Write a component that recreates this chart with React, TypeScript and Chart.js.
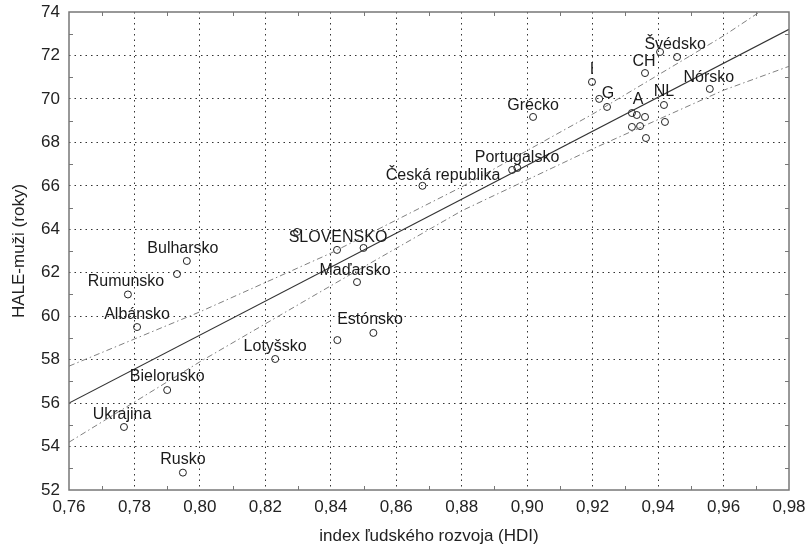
import React, { useEffect, useRef } from "react";
import { Chart, registerables } from "chart.js";

Chart.register(...registerables);

// Country points: HDI (x) and HALE for men (y)
const hdi = [0.7768, 0.79, 0.7948, 0.823, 0.7808, 0.778, 0.796, 0.793, 0.8297, 0.8419, 0.85, 0.848, 0.842, 0.853, 0.868, 0.8954, 0.897, 0.9018, 0.9198, 0.922, 0.9244, 0.936, 0.9406, 0.9458, 0.9558, 0.9418, 0.9421, 0.932, 0.9335, 0.936, 0.932, 0.9345, 0.9363];
const hale = [54.9, 56.6, 52.8, 58.03, 59.5, 61.0, 62.54, 61.94, 63.88, 63.05, 63.14, 61.57, 58.9, 59.23, 66.0, 66.73, 66.82, 69.17, 70.78, 70.0, 69.63, 71.19, 72.16, 71.93, 70.46, 69.72, 68.94, 69.35, 69.26, 69.17, 68.71, 68.75, 68.2];

// Text labels (anchor in data coordinates)
const labelTexts = ["Švédsko", "CH", "I", "G", "A", "NL", "Nórsko", "Grécko", "Portugalsko", "Česká republika", "SLOVENSKO", "Maďarsko", "Estónsko", "Lotyšsko", "Bulharsko", "Rumunsko", "Albánsko", "Bielorusko", "Ukrajina", "Rusko"];
const labelX = [0.9452, 0.9357, 0.9198, 0.9247, 0.9339, 0.9418, 0.9555, 0.9018, 0.8969, 0.8743, 0.8422, 0.8474, 0.852, 0.823, 0.7948, 0.7774, 0.7808, 0.79, 0.7762, 0.7948];
const labelY = [72.48, 71.7, 71.33, 70.23, 69.95, 70.32, 71.0, 69.67, 67.28, 66.45, 63.6, 62.08, 59.83, 58.58, 63.1, 61.57, 60.06, 57.2, 55.45, 53.38];

// Regression line and confidence band
const fitX = [0.76, 0.98];
const fitY = [56.0, 73.2];
const bandX = [0.76, 0.8, 0.84, 0.88, 0.92, 0.96, 0.98];
const upperY = [57.7, 60.2, 62.9, 65.95, 69.3, 72.9, 74.9];
const lowerY = [54.2, 57.9, 61.4, 64.85, 67.7, 70.4, 71.5];

// Axes
const xMin = 0.76, xMax = 0.98, xStep = 0.02;
const yMin = 52, yMax = 74, yStep = 2;
const xTitle = "index ľudského rozvoja (HDI)";
const yTitle = "HALE-muži (roky)";

const FONT = "'Liberation Sans', Arial, sans-serif";

export default function App() {
  const ref = useRef<HTMLCanvasElement | null>(null);

  useEffect(() => {
    document.body.style.margin = "0";
    const canvas = ref.current;
    if (!canvas) return;

    const extrasPlugin = {
      id: "extras",
      afterDatasetsDraw(chart: any) {
        const ctx = chart.ctx;
        const { left, right, top, bottom } = chart.chartArea;
        const xs = chart.scales.x;
        const ys = chart.scales.y;
        ctx.save();
        // minor ticks
        ctx.strokeStyle = "#777";
        ctx.lineWidth = 1;
        ctx.beginPath();
        for (let v = xMin + xStep / 2; v < xMax; v += xStep) {
          const px = Math.round(xs.getPixelForValue(v)) + 0.5;
          ctx.moveTo(px, bottom);
          ctx.lineTo(px, bottom - 4);
          ctx.moveTo(px, top);
          ctx.lineTo(px, top + 4);
        }
        for (let v = yMin + yStep / 2; v < yMax; v += yStep) {
          const py = Math.round(ys.getPixelForValue(v)) + 0.5;
          ctx.moveTo(left, py);
          ctx.lineTo(left + 4, py);
          ctx.moveTo(right, py);
          ctx.lineTo(right - 4, py);
        }
        ctx.stroke();
        // box
        ctx.strokeStyle = "#777";
        ctx.lineWidth = 1.5;
        ctx.strokeRect(left, top, right - left, bottom - top);
        // labels
        ctx.fillStyle = "#1a1a1a";
        ctx.font = `16px ${FONT}`;
        ctx.textAlign = "center";
        ctx.textBaseline = "middle";
        for (let i = 0; i < labelTexts.length; i++) {
          ctx.fillText(labelTexts[i], xs.getPixelForValue(labelX[i]), ys.getPixelForValue(labelY[i]));
        }
        ctx.restore();
      },
    };

    const points = hdi.map((x, i) => ({ x, y: hale[i] }));
    const fit = fitX.map((x, i) => ({ x, y: fitY[i] }));
    const upper = bandX.map((x, i) => ({ x, y: upperY[i] }));
    const lower = bandX.map((x, i) => ({ x, y: lowerY[i] }));

    const edgeColor = (c: any) => {
      const v = c.tick ? c.tick.value : 0;
      return c.scale.axis === "x"
        ? (Math.abs(v - xMin) < 1e-6 || Math.abs(v - xMax) < 1e-6 ? "rgba(0,0,0,0)" : "#333")
        : (Math.abs(v - yMin) < 1e-6 || Math.abs(v - yMax) < 1e-6 ? "rgba(0,0,0,0)" : "#333");
    };

    const chart = new Chart(canvas, {
      type: "scatter",
      data: {
        datasets: [
          {
            type: "line",
            data: upper,
            borderColor: "#808080",
            borderWidth: 1,
            borderDash: [6, 3, 1.5, 3],
            pointRadius: 0,
            fill: false,
          },
          {
            type: "line",
            data: lower,
            borderColor: "#808080",
            borderWidth: 1,
            borderDash: [6, 3, 1.5, 3],
            pointRadius: 0,
            fill: false,
          },
          {
            type: "line",
            data: fit,
            borderColor: "#333",
            borderWidth: 1.2,
            pointRadius: 0,
            fill: false,
          },
          {
            data: points,
            pointRadius: 3.5,
            pointBorderWidth: 1,
            pointBorderColor: "#222",
            pointBackgroundColor: "rgba(255,255,255,0)",
            showLine: false,
          },
        ],
      } as any,
      options: {
        responsive: false,
        animation: false,
        events: [],
        layout: { padding: { top: 12, right: 16, left: 0, bottom: 0 } },
        plugins: { legend: { display: false }, tooltip: { enabled: false } },
        scales: {
          x: {
            type: "linear",
            min: xMin,
            max: xMax,
            afterFit: (s: any) => {
              s.height = 60;
              s.paddingLeft = 0;
              s.paddingRight = 0;
            },
            ticks: {
              stepSize: xStep,
              padding: 7,
              color: "#222",
              font: { family: FONT, size: 17 },
              maxRotation: 0,
              callback: (v: any) => Number(v).toFixed(2).replace(".", ","),
            },
            grid: { color: edgeColor, drawTicks: false, lineWidth: 1 },
            border: { display: false, dash: [1.5, 4] },
            title: {
              display: true,
              text: xTitle,
              color: "#222",
              font: { family: FONT, size: 17 },
              padding: { top: 0, bottom: 3 },
            },
          },
          y: {
            type: "linear",
            min: yMin,
            max: yMax,
            afterFit: (s: any) => {
              s.width = 69;
              s.paddingTop = 0;
              s.paddingBottom = 0;
            },
            ticks: {
              stepSize: yStep,
              padding: 9,
              color: "#222",
              font: { family: FONT, size: 17 },
            },
            grid: { color: edgeColor, drawTicks: false, lineWidth: 1 },
            border: { display: false, dash: [1.5, 4] },
            title: {
              display: true,
              text: yTitle,
              color: "#222",
              font: { family: FONT, size: 17 },
              padding: { top: 9, bottom: 0 },
            },
          },
        },
      } as any,
      plugins: [extrasPlugin],
    });

    return () => chart.destroy();
  }, []);

  return (
    <div style={{ position: "fixed", left: 0, top: 0, width: 805, height: 550, background: "#fff" }}>
      <canvas ref={ref} width={805} height={550} />
    </div>
  );
}
